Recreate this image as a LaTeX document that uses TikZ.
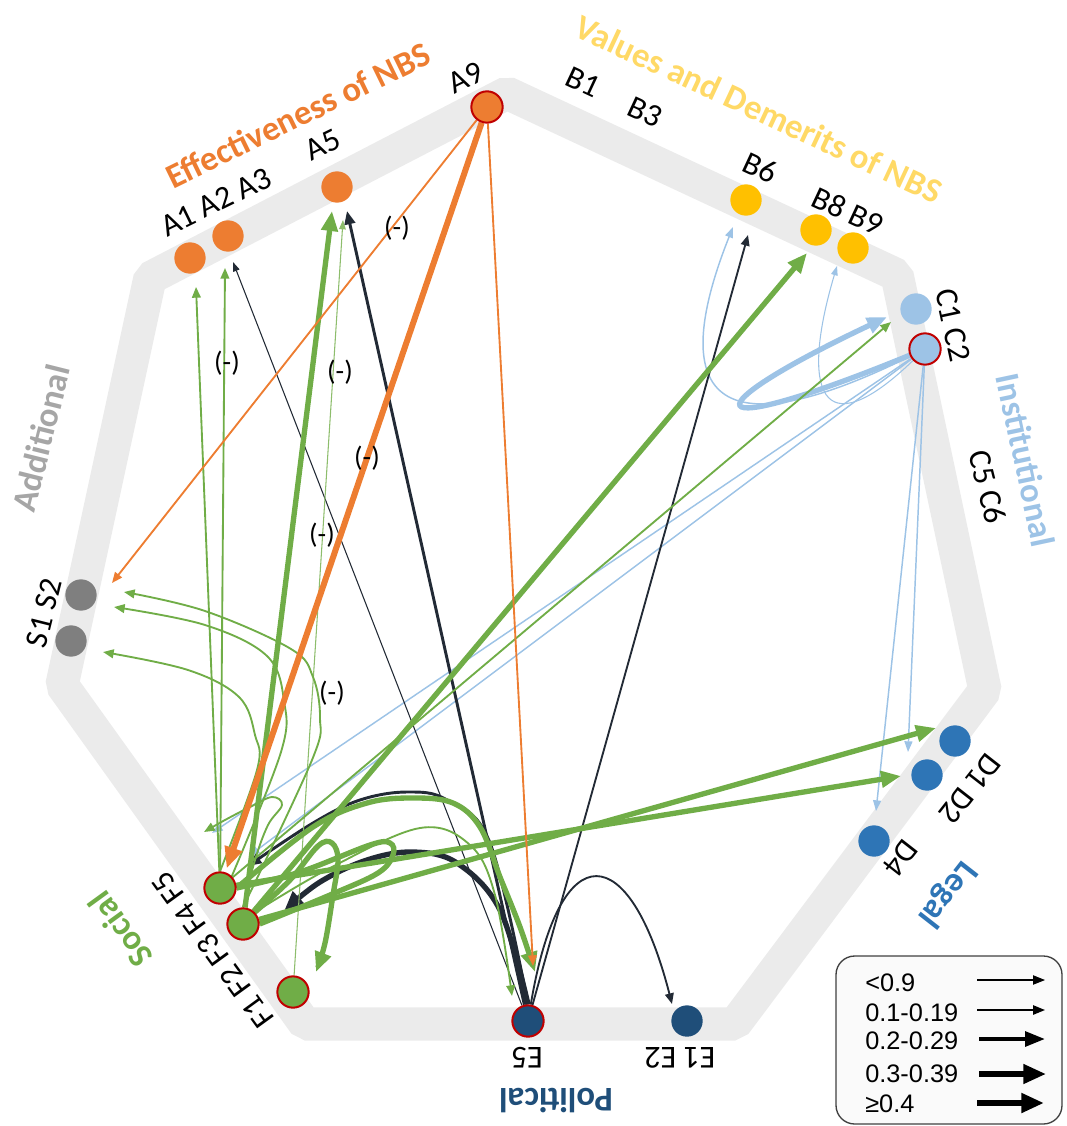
\documentclass[tikz,border=0pt]{standalone}
\usepackage{fontspec}
\setmainfont{Carlito}
\newfontfamily\legfont{Liberation Sans}
\usetikzlibrary{arrows.meta,backgrounds}
\definecolor{cA}{HTML}{ED7D31}
\definecolor{cB}{HTML}{FFC000}
\definecolor{cBt}{HTML}{FFD966}
\definecolor{cC}{HTML}{9DC3E6}
\definecolor{cD}{HTML}{2E75B6}
\definecolor{cE}{HTML}{1F4E79}
\definecolor{cF}{HTML}{70AD47}
\definecolor{cS}{HTML}{7F7F7F}
\definecolor{cSt}{HTML}{A6A6A6}
\definecolor{cRed}{HTML}{C00000}
\definecolor{bandc}{HTML}{EBEBEB}
\definecolor{navy}{HTML}{222A35}
\definecolor{legfill}{HTML}{FAFAFA}
\definecolor{legline}{HTML}{404040}
\begin{document}
\begin{tikzpicture}[x=0.75pt,y=-0.75pt,
  dot/.style={circle,minimum size=23.5pt,inner sep=0pt},
  hl/.style={draw=cRed,line width=1.5pt},
  lab/.style={font=\fontsize{24}{26}\selectfont,inner sep=0pt,text=black},
  ttl/.style={font=\fontsize{26}{28}\selectfont\bfseries,inner sep=0pt},
  neg/.style={font=\fontsize{21}{24}\selectfont,inner sep=0pt},
  legtxt/.style={font=\legfont\fontsize{19}{21}\selectfont,inner sep=0pt,anchor=west},
  e1/.style={line width=0.8pt,-{Triangle[length=7pt,width=5pt]}},
  eb/.style={line width=1.1pt,-{Triangle[length=8pt,width=6pt]}},
  e2/.style={line width=1.4pt,-{Triangle[length=8pt,width=6.5pt]}},
  e3/.style={line width=2.2pt,-{Triangle[length=10pt,width=8pt]}},
  e4/.style={line width=4pt,-{Triangle[length=15pt,width=12pt]}},
  sm/.style={smooth,tension=0.6},
]
\useasboundingbox (0,0) rectangle (1066,1126);

% ---------- nodes ----------
\node[dot,fill=cA] (A1) at (190,258) {};
\node[dot,fill=cA] (A2) at (228,236) {};
\node[dot,fill=cA] (A5) at (337,187) {};
\node[dot,fill=cA,hl] (A9) at (487,107) {};
\node[dot,fill=cB] (B6) at (746,200) {};
\node[dot,fill=cB] (B8) at (816,230) {};
\node[dot,fill=cB] (B9) at (853,248) {};
\node[dot,fill=cC] (C1) at (916,309) {};
\node[dot,fill=cC,hl] (C2) at (925,349) {};
\node[dot,fill=cD] (D1) at (955,741) {};
\node[dot,fill=cD] (D2) at (927,775) {};
\node[dot,fill=cD] (D4) at (874,841) {};
\node[dot,fill=cE,hl] (E5) at (528,1021) {};
\node[dot,fill=cE] (E12) at (687,1021) {};
\node[dot,fill=cF,hl] (F5) at (220,888) {};
\node[dot,fill=cF,hl] (F4) at (243,924) {};
\node[dot,fill=cF,hl] (F1) at (293,992) {};
\node[dot,fill=cS] (S2) at (81,595) {};
\node[dot,fill=cS] (S1) at (71,641) {};

% ---------- arrow tip coordinates ----------
\coordinate (tA9S) at (112,583);
\coordinate (tA9E) at (533,966);
\coordinate (tF5A1) at (196,287);
\coordinate (tF5A2) at (225,268);
\coordinate (tF4A5) at (332,211);
\coordinate (tF1A5) at (343,220);
\coordinate (tF4B8) at (807,253);
\coordinate (tF5C1) at (891,322);
\coordinate (tF5D2) at (901,776);
\coordinate (tF4D1) at (936,728);
\coordinate (tS2a) at (124,592);
\coordinate (tS2b) at (114,607);
\coordinate (tS1a) at (103,652);
\coordinate (tFE1) at (535,972);
\coordinate (tFE2) at (512,996);
\coordinate (tFF1) at (316,972);
\coordinate (tFcurl) at (204,832);
\coordinate (tC2F5) at (212,833);
\coordinate (tC2F4) at (249,856);
\coordinate (tC2D2) at (908,752);
\coordinate (tC2D4) at (876,811);
\coordinate (tC2C1) at (887,317);
\coordinate (tC2B6) at (733,227);
\coordinate (tC2B9) at (837,266);
\coordinate (tE5A5) at (347,211);
\coordinate (tE5A2) at (233,262);
\coordinate (tE5B6) at (748,235);
\coordinate (tE5E1) at (672,1004);
\coordinate (tE5F4) at (284,911);
\coordinate (tE5F5) at (248,866);

\begin{pgfonlayer}{background}
% ---------- band ----------
\draw[bandc,line width=25pt,line join=bevel] (507,93) -- (897,275) -- (985,690) -- (735,1024) -- (305,1024) -- (62,685) -- (150,278) -- cycle;

% ---------- light blue (institutional) ----------
\draw[eb,cC] (C2) -- (tC2F5);
\draw[eb,cC] (C2) -- (tC2F4);
\draw[eb,cC] (C2) -- (tC2D2);
\draw[eb,cC] (C2) -- (tC2D4);
\draw[eb,cC] (C2) .. controls (680,470) and (680,360) .. (tC2B6);
\draw[e1,cC] (C2) .. controls (820,450) and (800,390) .. (tC2B9);
\draw[e4,cC] (C2) .. controls (690,445) and (690,410) .. (tC2C1);

% ---------- navy (political) ----------
\draw[e3,navy] (E5) -- (tE5A5);
\draw[e1,navy] (E5) -- (tE5A2);
\draw[e2,navy] (E5) -- (tE5B6);
\draw[e2,navy] (E5) .. controls (560,830) and (630,840) .. (tE5E1);
\draw[e4,navy] plot[sm] coordinates {(E5.north) (500,910) (457,863) (413,852) (367,860) (320,882) (tE5F4)};
\draw[e3,navy] plot[sm] coordinates {(E5.north) (490,843) (447,800) (407,792) (360,800) (313,823) (tE5F5)};

% ---------- green (social) ----------
\draw[e2,cF] (F5) -- (tF5A1);
\draw[e2,cF] (F5) -- (tF5A2);
\draw[e4,cF] (F4) -- (tF4A5);
\draw[e1,cF!80] (F1) -- (tF1A5);
\draw[e4,cF] (F4) -- (tF4B8);
\draw[e2,cF] (F5) -- (tF5C1);
\draw[e4,cF] (F5) -- (tF5D2);
\draw[e4,cF] (F4) -- (tF4D1);
\draw[e2,cF] plot[sm] coordinates {(F4.north) (312,760) (320,718) (313,677) (291,649) (205,611) (tS2a)};
\draw[e2,cF] plot[sm] coordinates {(F5.north east) (281,752) (284,701) (267,656) (205,625) (tS2b)};
\draw[e2,cF] plot[sm] coordinates {(F5.north) (257,770) (255,735) (239,697) (188,670) (tS1a)};
\draw[e4,cF] plot[sm] coordinates {(F5.east) (313,827) (367,803) (413,798) (453,803) (480,827) (500,877) (520,927) (tFE1)};
\draw[e2,cF] plot[sm] coordinates {(F4.north east) (330,868) (420,828) (470,845) (495,895) (tFE2)};
\draw[e4,cF] plot[sm] coordinates {(F4.north east) (290,880) (318,846) (332,843) (338,860) (333,895) (325,943) (tFF1)};
\draw[line width=4pt,cF] plot[sm] coordinates {(F5.east) (300,872) (370,845) (390,843) (393,855) (378,873) (330,895) (F4.east)};
\draw[e2,cF] plot[sm] coordinates {(F4.north) (255,860) (268,825) (282,805) (272,797) (250,807) (225,820) (tFcurl)};

% ---------- orange (effectiveness) ----------
\draw[e2,cA] (A9) -- (tA9S);
\draw[cA,line width=4.5pt,-{Triangle[length=16pt,width=13pt]},shorten >=3pt] (A9) -- (F5);
\draw[e2,cA] (A9) -- (tA9E);
\end{pgfonlayer}

% ---------- negative markers ----------
\node[neg] (m1) at (397,228) {(-)};
\node[neg] (m2) at (227,363) {(-)};
\node[neg] (m3) at (340,372) {(-)};
\node[neg] (m4) at (367,458) {(-)};
\node[neg] (m5) at (322,535) {(-)};
\node[neg] (m6) at (332,693) {(-)};

% ---------- labels ----------
\node[lab,rotate=26] (lA123) at (216,202) {A1 A2 A3};
\node[lab,rotate=26] (lA5) at (323,145) {A5};
\node[lab,rotate=26] (lA9) at (466,78) {A9};
\node[ttl,rotate=26,text=cA] (tA) at (298,115) {Effectiveness of NBS};
\node[lab,rotate=-25] (lB1) at (583,82) {B1};
\node[lab,rotate=-25] (lB3) at (645,112) {B3};
\node[ttl,rotate=-25,text=cBt] (tB) at (759,109) {Values and Demerits of NBS};
\node[lab,rotate=-25] (lB6) at (760,168) {B6};
\node[lab,rotate=-25] (lB89) at (848,211) {B8 B9};
\node[lab,rotate=-78] (lC12) at (953,325) {C1 C2};
\node[lab,rotate=-76] (lC56) at (988,487) {C5 C6};
\node[ttl,rotate=-78,text=cC] (tC) at (1026,460) {Institutional};
\node[lab,rotate=-128] (lD12) at (970,789) {D1 D2};
\node[lab,rotate=-128] (lD4) at (901,858) {D4};
\node[ttl,rotate=-128,text=cD] (tD) at (947,894) {Legal};
\node[lab,rotate=180] (lE5) at (527,1058) {E5};
\node[lab,rotate=180] (lE12) at (680,1058) {E1 E2};
\node[ttl,rotate=180,text=cE] (tE) at (556,1101) {Political};
\node[lab,rotate=126] (lF) at (213,950) {F1 F2 F3 F4 F5};
\node[ttl,rotate=126,text=cF] (tF) at (120,930) {Social};
\node[lab,rotate=76] (lS) at (44,613) {S1 S2};
\node[ttl,rotate=76,text=cSt] (tS) at (41,438) {Additional};

% ---------- legend ----------
\node[draw=legline,fill=legfill,line width=1pt,rounded corners=14pt,minimum width=169.5pt,minimum height=126pt,inner sep=0pt] (leg) at (949,1040) {};
\node[legtxt] (g1) at (865,983) {<0.9};
\node[legtxt] (g2) at (865,1013) {0.1-0.19};
\node[legtxt] (g3) at (865,1041) {0.2-0.29};
\node[legtxt] (g4) at (865,1074) {0.3-0.39};
\node[legtxt] (g5) at (865,1104) {≥0.4};
\coordinate (a1) at (977,980); \coordinate (b1) at (1045,980);
\coordinate (a2) at (977,1010); \coordinate (b2) at (1045,1010);
\coordinate (a3) at (979,1039); \coordinate (b3) at (1045,1039);
\coordinate (a4) at (979,1074); \coordinate (b4) at (1046,1074);
\coordinate (a5) at (977,1103); \coordinate (b5) at (1044,1103);
\draw[line width=0.8pt,-{Triangle[length=9pt,width=7pt]}] (a1) -- (b1);
\draw[line width=1.3pt,-{Triangle[length=9pt,width=7pt]}] (a2) -- (b2);
\draw[line width=3pt,-{Triangle[length=15pt,width=11pt]}] (a3) -- (b3);
\draw[line width=4pt,-{Triangle[length=17pt,width=14pt]}] (a4) -- (b4);
\draw[line width=4.5pt,-{Triangle[length=17pt,width=14pt]}] (a5) -- (b5);
\end{tikzpicture}
\end{document}
